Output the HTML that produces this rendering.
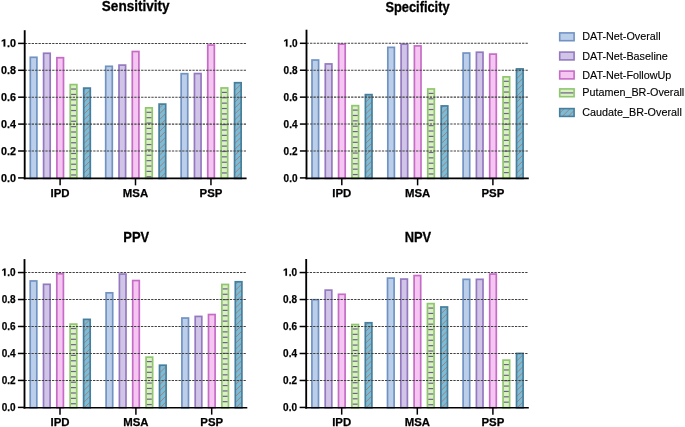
<!DOCTYPE html>
<html><head><meta charset="utf-8"><style>
html,body{margin:0;padding:0;background:#fff;}
svg{display:block;filter:blur(0.35px);}
text{font-family:"Liberation Sans", sans-serif;fill:#000;}
.yl{font-size:11.8px;font-weight:bold;stroke:#000;stroke-width:0.25px;}
.xl{font-size:11.4px;font-weight:bold;stroke:#000;stroke-width:0.25px;}
.tt{font-size:14.9px;font-weight:bold;stroke:#000;stroke-width:0.3px;}
.lg{font-size:10.8px;fill:#000;stroke:#000;stroke-width:0.12px;}
</style></head><body>
<svg width="685" height="427" viewBox="0 0 685 427">
<defs>
<pattern id="pt" patternUnits="userSpaceOnUse" width="4.2" height="4.2" patternTransform="rotate(45)">
<rect width="4.2" height="4.2" fill="#7dbcd6"/><rect x="0" width="0.85" height="4.2" fill="#a8847a"/></pattern>
</defs>
<rect width="685" height="427" fill="#fff"/>
<rect x="30.3" y="57.3" width="6.6" height="121.15" fill="#bccfea" stroke="#7193c4" stroke-width="1.7"/>
<rect x="43.6" y="53.26" width="6.6" height="125.19" fill="#d0c4e7" stroke="#9579c0" stroke-width="1.7"/>
<rect x="56.9" y="57.7" width="6.6" height="120.75" fill="#f4c6f1" stroke="#c66cc6" stroke-width="1.7"/>
<rect x="70.25" y="84.6" width="6.6" height="93.85" fill="#daf2c2" stroke="#8fc66f" stroke-width="1.7"/>
<line x1="71.1" x2="76" y1="89.05" y2="89.05" stroke="#6c6289" stroke-width="1.2"/>
<line x1="71.1" x2="76" y1="94.42" y2="94.42" stroke="#6c6289" stroke-width="1.2"/>
<line x1="71.1" x2="76" y1="99.79" y2="99.79" stroke="#6c6289" stroke-width="1.2"/>
<line x1="71.1" x2="76" y1="105.16" y2="105.16" stroke="#6c6289" stroke-width="1.2"/>
<line x1="71.1" x2="76" y1="110.53" y2="110.53" stroke="#6c6289" stroke-width="1.2"/>
<line x1="71.1" x2="76" y1="115.9" y2="115.9" stroke="#6c6289" stroke-width="1.2"/>
<line x1="71.1" x2="76" y1="121.27" y2="121.27" stroke="#6c6289" stroke-width="1.2"/>
<line x1="71.1" x2="76" y1="126.64" y2="126.64" stroke="#6c6289" stroke-width="1.2"/>
<line x1="71.1" x2="76" y1="132.01" y2="132.01" stroke="#6c6289" stroke-width="1.2"/>
<line x1="71.1" x2="76" y1="137.38" y2="137.38" stroke="#6c6289" stroke-width="1.2"/>
<line x1="71.1" x2="76" y1="142.75" y2="142.75" stroke="#6c6289" stroke-width="1.2"/>
<line x1="71.1" x2="76" y1="148.12" y2="148.12" stroke="#6c6289" stroke-width="1.2"/>
<line x1="71.1" x2="76" y1="153.49" y2="153.49" stroke="#6c6289" stroke-width="1.2"/>
<line x1="71.1" x2="76" y1="158.86" y2="158.86" stroke="#6c6289" stroke-width="1.2"/>
<line x1="71.1" x2="76" y1="164.23" y2="164.23" stroke="#6c6289" stroke-width="1.2"/>
<line x1="71.1" x2="76" y1="169.6" y2="169.6" stroke="#6c6289" stroke-width="1.2"/>
<line x1="71.1" x2="76" y1="174.97" y2="174.97" stroke="#6c6289" stroke-width="1.2"/>
<clipPath id="c1"><rect x="83.7" y="88.1" width="6.6" height="90.35"/></clipPath><rect x="83.7" y="88.1" width="6.6" height="90.35" fill="#7dbcd6"/><path clip-path="url(#c1)" d="M83.7,185.05L90.3,178.45M83.7,179.15L90.3,172.55M83.7,173.25L90.3,166.65M83.7,167.35L90.3,160.75M83.7,161.45L90.3,154.85M83.7,155.55L90.3,148.95M83.7,149.65L90.3,143.05M83.7,143.75L90.3,137.15M83.7,137.85L90.3,131.25M83.7,131.95L90.3,125.35M83.7,126.05L90.3,119.45M83.7,120.15L90.3,113.55M83.7,114.25L90.3,107.65M83.7,108.35L90.3,101.75M83.7,102.45L90.3,95.85M83.7,96.55L90.3,89.95M83.7,90.65L90.3,84.05" stroke="#a87c72" stroke-width="0.95" fill="none"/><rect x="83.7" y="88.1" width="6.6" height="90.35" fill="none" stroke="#467f9d" stroke-width="1.7"/>
<rect x="105.7" y="66.31" width="6.6" height="112.14" fill="#bccfea" stroke="#7193c4" stroke-width="1.7"/>
<rect x="119" y="65.1" width="6.6" height="113.35" fill="#d0c4e7" stroke="#9579c0" stroke-width="1.7"/>
<rect x="132.3" y="51.51" width="6.6" height="126.94" fill="#f4c6f1" stroke="#c66cc6" stroke-width="1.7"/>
<rect x="145.65" y="107.87" width="6.6" height="70.58" fill="#daf2c2" stroke="#8fc66f" stroke-width="1.7"/>
<line x1="146.5" x2="151.4" y1="112.32" y2="112.32" stroke="#6c6289" stroke-width="1.2"/>
<line x1="146.5" x2="151.4" y1="117.69" y2="117.69" stroke="#6c6289" stroke-width="1.2"/>
<line x1="146.5" x2="151.4" y1="123.06" y2="123.06" stroke="#6c6289" stroke-width="1.2"/>
<line x1="146.5" x2="151.4" y1="128.43" y2="128.43" stroke="#6c6289" stroke-width="1.2"/>
<line x1="146.5" x2="151.4" y1="133.8" y2="133.8" stroke="#6c6289" stroke-width="1.2"/>
<line x1="146.5" x2="151.4" y1="139.17" y2="139.17" stroke="#6c6289" stroke-width="1.2"/>
<line x1="146.5" x2="151.4" y1="144.54" y2="144.54" stroke="#6c6289" stroke-width="1.2"/>
<line x1="146.5" x2="151.4" y1="149.91" y2="149.91" stroke="#6c6289" stroke-width="1.2"/>
<line x1="146.5" x2="151.4" y1="155.28" y2="155.28" stroke="#6c6289" stroke-width="1.2"/>
<line x1="146.5" x2="151.4" y1="160.65" y2="160.65" stroke="#6c6289" stroke-width="1.2"/>
<line x1="146.5" x2="151.4" y1="166.02" y2="166.02" stroke="#6c6289" stroke-width="1.2"/>
<line x1="146.5" x2="151.4" y1="171.39" y2="171.39" stroke="#6c6289" stroke-width="1.2"/>
<line x1="146.5" x2="151.4" y1="176.76" y2="176.76" stroke="#6c6289" stroke-width="1.2"/>
<clipPath id="c2"><rect x="159.1" y="104.1" width="6.6" height="74.35"/></clipPath><rect x="159.1" y="104.1" width="6.6" height="74.35" fill="#7dbcd6"/><path clip-path="url(#c2)" d="M159.1,185.05L165.7,178.45M159.1,179.15L165.7,172.55M159.1,173.25L165.7,166.65M159.1,167.35L165.7,160.75M159.1,161.45L165.7,154.85M159.1,155.55L165.7,148.95M159.1,149.65L165.7,143.05M159.1,143.75L165.7,137.15M159.1,137.85L165.7,131.25M159.1,131.95L165.7,125.35M159.1,126.05L165.7,119.45M159.1,120.15L165.7,113.55M159.1,114.25L165.7,107.65M159.1,108.35L165.7,101.75" stroke="#a87c72" stroke-width="0.95" fill="none"/><rect x="159.1" y="104.1" width="6.6" height="74.35" fill="none" stroke="#467f9d" stroke-width="1.7"/>
<rect x="181.15" y="73.71" width="6.6" height="104.74" fill="#bccfea" stroke="#7193c4" stroke-width="1.7"/>
<rect x="194.45" y="73.57" width="6.6" height="104.88" fill="#d0c4e7" stroke="#9579c0" stroke-width="1.7"/>
<rect x="207.75" y="45.06" width="6.6" height="133.39" fill="#f4c6f1" stroke="#c66cc6" stroke-width="1.7"/>
<rect x="221.1" y="87.96" width="6.6" height="90.49" fill="#daf2c2" stroke="#8fc66f" stroke-width="1.7"/>
<line x1="221.95" x2="226.85" y1="92.41" y2="92.41" stroke="#6c6289" stroke-width="1.2"/>
<line x1="221.95" x2="226.85" y1="97.78" y2="97.78" stroke="#6c6289" stroke-width="1.2"/>
<line x1="221.95" x2="226.85" y1="103.15" y2="103.15" stroke="#6c6289" stroke-width="1.2"/>
<line x1="221.95" x2="226.85" y1="108.52" y2="108.52" stroke="#6c6289" stroke-width="1.2"/>
<line x1="221.95" x2="226.85" y1="113.89" y2="113.89" stroke="#6c6289" stroke-width="1.2"/>
<line x1="221.95" x2="226.85" y1="119.26" y2="119.26" stroke="#6c6289" stroke-width="1.2"/>
<line x1="221.95" x2="226.85" y1="124.63" y2="124.63" stroke="#6c6289" stroke-width="1.2"/>
<line x1="221.95" x2="226.85" y1="130" y2="130" stroke="#6c6289" stroke-width="1.2"/>
<line x1="221.95" x2="226.85" y1="135.37" y2="135.37" stroke="#6c6289" stroke-width="1.2"/>
<line x1="221.95" x2="226.85" y1="140.74" y2="140.74" stroke="#6c6289" stroke-width="1.2"/>
<line x1="221.95" x2="226.85" y1="146.11" y2="146.11" stroke="#6c6289" stroke-width="1.2"/>
<line x1="221.95" x2="226.85" y1="151.48" y2="151.48" stroke="#6c6289" stroke-width="1.2"/>
<line x1="221.95" x2="226.85" y1="156.85" y2="156.85" stroke="#6c6289" stroke-width="1.2"/>
<line x1="221.95" x2="226.85" y1="162.22" y2="162.22" stroke="#6c6289" stroke-width="1.2"/>
<line x1="221.95" x2="226.85" y1="167.59" y2="167.59" stroke="#6c6289" stroke-width="1.2"/>
<line x1="221.95" x2="226.85" y1="172.96" y2="172.96" stroke="#6c6289" stroke-width="1.2"/>
<clipPath id="c3"><rect x="234.55" y="82.72" width="6.6" height="95.73"/></clipPath><rect x="234.55" y="82.72" width="6.6" height="95.73" fill="#7dbcd6"/><path clip-path="url(#c3)" d="M234.55,185.05L241.15,178.45M234.55,179.15L241.15,172.55M234.55,173.25L241.15,166.65M234.55,167.35L241.15,160.75M234.55,161.45L241.15,154.85M234.55,155.55L241.15,148.95M234.55,149.65L241.15,143.05M234.55,143.75L241.15,137.15M234.55,137.85L241.15,131.25M234.55,131.95L241.15,125.35M234.55,126.05L241.15,119.45M234.55,120.15L241.15,113.55M234.55,114.25L241.15,107.65M234.55,108.35L241.15,101.75M234.55,102.45L241.15,95.85M234.55,96.55L241.15,89.95M234.55,90.65L241.15,84.05M234.55,84.75L241.15,78.15" stroke="#a87c72" stroke-width="0.95" fill="none"/><rect x="234.55" y="82.72" width="6.6" height="95.73" fill="none" stroke="#467f9d" stroke-width="1.7"/>
<line x1="24.83" x2="246.1" y1="151" y2="151" stroke="#404040" stroke-width="1.05" stroke-dasharray="2.3 1.12"/>
<line x1="24.83" x2="246.1" y1="124.1" y2="124.1" stroke="#404040" stroke-width="1.05" stroke-dasharray="2.3 1.12"/>
<line x1="24.83" x2="246.1" y1="97.2" y2="97.2" stroke="#404040" stroke-width="1.05" stroke-dasharray="2.3 1.12"/>
<line x1="24.83" x2="246.1" y1="70.3" y2="70.3" stroke="#404040" stroke-width="1.05" stroke-dasharray="2.3 1.12"/>
<line x1="24.83" x2="246.1" y1="43.4" y2="43.4" stroke="#404040" stroke-width="1.05" stroke-dasharray="2.3 1.12"/>
<line x1="24.7" x2="24.7" y1="30.2" y2="179.3" stroke="#000" stroke-width="1.85"/>
<line x1="23.78" x2="246.6" y1="178.45" y2="178.45" stroke="#000" stroke-width="1.7"/>
<line x1="18.1" x2="24.7" y1="177.9" y2="177.9" stroke="#000" stroke-width="1.5"/>
<text x="1.1" y="181.5" class="yl" textLength="15" lengthAdjust="spacingAndGlyphs">0.0</text>
<line x1="18.1" x2="24.7" y1="151" y2="151" stroke="#000" stroke-width="1.5"/>
<text x="1.1" y="154.6" class="yl" textLength="15" lengthAdjust="spacingAndGlyphs">0.2</text>
<line x1="18.1" x2="24.7" y1="124.1" y2="124.1" stroke="#000" stroke-width="1.5"/>
<text x="1.1" y="127.7" class="yl" textLength="15" lengthAdjust="spacingAndGlyphs">0.4</text>
<line x1="18.1" x2="24.7" y1="97.2" y2="97.2" stroke="#000" stroke-width="1.5"/>
<text x="1.1" y="100.8" class="yl" textLength="15" lengthAdjust="spacingAndGlyphs">0.6</text>
<line x1="18.1" x2="24.7" y1="70.3" y2="70.3" stroke="#000" stroke-width="1.5"/>
<text x="1.1" y="73.9" class="yl" textLength="15" lengthAdjust="spacingAndGlyphs">0.8</text>
<line x1="18.1" x2="24.7" y1="43.4" y2="43.4" stroke="#000" stroke-width="1.5"/>
<text x="7.1" y="47" class="yl" textLength="9" lengthAdjust="spacingAndGlyphs">.0</text>
<path transform="translate(1.1,46.6) scale(0.005267,-0.005186)" stroke="#000" stroke-width="28" d="M470,0L470,1130L110,920L110,1170L480,1409L795,1409L795,0Z"/>
<line x1="60.1" x2="60.1" y1="178.45" y2="185.35" stroke="#000" stroke-width="1.5"/>
<text x="60.1" y="196.85" text-anchor="middle" class="xl">IPD</text>
<line x1="135.5" x2="135.5" y1="178.45" y2="185.35" stroke="#000" stroke-width="1.5"/>
<text x="135.5" y="196.85" text-anchor="middle" class="xl">MSA</text>
<line x1="210.95" x2="210.95" y1="178.45" y2="185.35" stroke="#000" stroke-width="1.5"/>
<text x="210.95" y="196.85" text-anchor="middle" class="xl">PSP</text>
<text x="135.7" y="11.2" text-anchor="middle" class="tt" textLength="67.8" lengthAdjust="spacingAndGlyphs">Sensitivity</text>
<rect x="312" y="60.03" width="6.6" height="118.42" fill="#bccfea" stroke="#7193c4" stroke-width="1.7"/>
<rect x="325.3" y="63.94" width="6.6" height="114.51" fill="#d0c4e7" stroke="#9579c0" stroke-width="1.7"/>
<rect x="338.6" y="44.15" width="6.6" height="134.3" fill="#f4c6f1" stroke="#c66cc6" stroke-width="1.7"/>
<rect x="351.95" y="105.66" width="6.6" height="72.79" fill="#daf2c2" stroke="#8fc66f" stroke-width="1.7"/>
<line x1="352.8" x2="357.7" y1="110.11" y2="110.11" stroke="#6c6289" stroke-width="1.2"/>
<line x1="352.8" x2="357.7" y1="115.48" y2="115.48" stroke="#6c6289" stroke-width="1.2"/>
<line x1="352.8" x2="357.7" y1="120.85" y2="120.85" stroke="#6c6289" stroke-width="1.2"/>
<line x1="352.8" x2="357.7" y1="126.22" y2="126.22" stroke="#6c6289" stroke-width="1.2"/>
<line x1="352.8" x2="357.7" y1="131.59" y2="131.59" stroke="#6c6289" stroke-width="1.2"/>
<line x1="352.8" x2="357.7" y1="136.96" y2="136.96" stroke="#6c6289" stroke-width="1.2"/>
<line x1="352.8" x2="357.7" y1="142.33" y2="142.33" stroke="#6c6289" stroke-width="1.2"/>
<line x1="352.8" x2="357.7" y1="147.7" y2="147.7" stroke="#6c6289" stroke-width="1.2"/>
<line x1="352.8" x2="357.7" y1="153.07" y2="153.07" stroke="#6c6289" stroke-width="1.2"/>
<line x1="352.8" x2="357.7" y1="158.44" y2="158.44" stroke="#6c6289" stroke-width="1.2"/>
<line x1="352.8" x2="357.7" y1="163.81" y2="163.81" stroke="#6c6289" stroke-width="1.2"/>
<line x1="352.8" x2="357.7" y1="169.18" y2="169.18" stroke="#6c6289" stroke-width="1.2"/>
<line x1="352.8" x2="357.7" y1="174.55" y2="174.55" stroke="#6c6289" stroke-width="1.2"/>
<clipPath id="c4"><rect x="365.4" y="94.62" width="6.6" height="83.83"/></clipPath><rect x="365.4" y="94.62" width="6.6" height="83.83" fill="#7dbcd6"/><path clip-path="url(#c4)" d="M365.4,185.05L372,178.45M365.4,179.15L372,172.55M365.4,173.25L372,166.65M365.4,167.35L372,160.75M365.4,161.45L372,154.85M365.4,155.55L372,148.95M365.4,149.65L372,143.05M365.4,143.75L372,137.15M365.4,137.85L372,131.25M365.4,131.95L372,125.35M365.4,126.05L372,119.45M365.4,120.15L372,113.55M365.4,114.25L372,107.65M365.4,108.35L372,101.75M365.4,102.45L372,95.85M365.4,96.55L372,89.95" stroke="#a87c72" stroke-width="0.95" fill="none"/><rect x="365.4" y="94.62" width="6.6" height="83.83" fill="none" stroke="#467f9d" stroke-width="1.7"/>
<rect x="387.8" y="47.38" width="6.6" height="131.07" fill="#bccfea" stroke="#7193c4" stroke-width="1.7"/>
<rect x="401.1" y="44.15" width="6.6" height="134.3" fill="#d0c4e7" stroke="#9579c0" stroke-width="1.7"/>
<rect x="414.4" y="45.9" width="6.6" height="132.55" fill="#f4c6f1" stroke="#c66cc6" stroke-width="1.7"/>
<rect x="427.75" y="88.97" width="6.6" height="89.48" fill="#daf2c2" stroke="#8fc66f" stroke-width="1.7"/>
<line x1="428.6" x2="433.5" y1="93.42" y2="93.42" stroke="#6c6289" stroke-width="1.2"/>
<line x1="428.6" x2="433.5" y1="98.79" y2="98.79" stroke="#6c6289" stroke-width="1.2"/>
<line x1="428.6" x2="433.5" y1="104.16" y2="104.16" stroke="#6c6289" stroke-width="1.2"/>
<line x1="428.6" x2="433.5" y1="109.53" y2="109.53" stroke="#6c6289" stroke-width="1.2"/>
<line x1="428.6" x2="433.5" y1="114.9" y2="114.9" stroke="#6c6289" stroke-width="1.2"/>
<line x1="428.6" x2="433.5" y1="120.27" y2="120.27" stroke="#6c6289" stroke-width="1.2"/>
<line x1="428.6" x2="433.5" y1="125.64" y2="125.64" stroke="#6c6289" stroke-width="1.2"/>
<line x1="428.6" x2="433.5" y1="131.01" y2="131.01" stroke="#6c6289" stroke-width="1.2"/>
<line x1="428.6" x2="433.5" y1="136.38" y2="136.38" stroke="#6c6289" stroke-width="1.2"/>
<line x1="428.6" x2="433.5" y1="141.75" y2="141.75" stroke="#6c6289" stroke-width="1.2"/>
<line x1="428.6" x2="433.5" y1="147.12" y2="147.12" stroke="#6c6289" stroke-width="1.2"/>
<line x1="428.6" x2="433.5" y1="152.49" y2="152.49" stroke="#6c6289" stroke-width="1.2"/>
<line x1="428.6" x2="433.5" y1="157.86" y2="157.86" stroke="#6c6289" stroke-width="1.2"/>
<line x1="428.6" x2="433.5" y1="163.23" y2="163.23" stroke="#6c6289" stroke-width="1.2"/>
<line x1="428.6" x2="433.5" y1="168.6" y2="168.6" stroke="#6c6289" stroke-width="1.2"/>
<line x1="428.6" x2="433.5" y1="173.97" y2="173.97" stroke="#6c6289" stroke-width="1.2"/>
<clipPath id="c5"><rect x="441.2" y="105.93" width="6.6" height="72.52"/></clipPath><rect x="441.2" y="105.93" width="6.6" height="72.52" fill="#7dbcd6"/><path clip-path="url(#c5)" d="M441.2,185.05L447.8,178.45M441.2,179.15L447.8,172.55M441.2,173.25L447.8,166.65M441.2,167.35L447.8,160.75M441.2,161.45L447.8,154.85M441.2,155.55L447.8,148.95M441.2,149.65L447.8,143.05M441.2,143.75L447.8,137.15M441.2,137.85L447.8,131.25M441.2,131.95L447.8,125.35M441.2,126.05L447.8,119.45M441.2,120.15L447.8,113.55M441.2,114.25L447.8,107.65M441.2,108.35L447.8,101.75" stroke="#a87c72" stroke-width="0.95" fill="none"/><rect x="441.2" y="105.93" width="6.6" height="72.52" fill="none" stroke="#467f9d" stroke-width="1.7"/>
<rect x="463.1" y="53.03" width="6.6" height="125.42" fill="#bccfea" stroke="#7193c4" stroke-width="1.7"/>
<rect x="476.4" y="52.23" width="6.6" height="126.22" fill="#d0c4e7" stroke="#9579c0" stroke-width="1.7"/>
<rect x="489.7" y="54.11" width="6.6" height="124.34" fill="#f4c6f1" stroke="#c66cc6" stroke-width="1.7"/>
<rect x="503.05" y="76.86" width="6.6" height="101.59" fill="#daf2c2" stroke="#8fc66f" stroke-width="1.7"/>
<line x1="503.9" x2="508.8" y1="81.31" y2="81.31" stroke="#6c6289" stroke-width="1.2"/>
<line x1="503.9" x2="508.8" y1="86.68" y2="86.68" stroke="#6c6289" stroke-width="1.2"/>
<line x1="503.9" x2="508.8" y1="92.05" y2="92.05" stroke="#6c6289" stroke-width="1.2"/>
<line x1="503.9" x2="508.8" y1="97.42" y2="97.42" stroke="#6c6289" stroke-width="1.2"/>
<line x1="503.9" x2="508.8" y1="102.79" y2="102.79" stroke="#6c6289" stroke-width="1.2"/>
<line x1="503.9" x2="508.8" y1="108.16" y2="108.16" stroke="#6c6289" stroke-width="1.2"/>
<line x1="503.9" x2="508.8" y1="113.53" y2="113.53" stroke="#6c6289" stroke-width="1.2"/>
<line x1="503.9" x2="508.8" y1="118.9" y2="118.9" stroke="#6c6289" stroke-width="1.2"/>
<line x1="503.9" x2="508.8" y1="124.27" y2="124.27" stroke="#6c6289" stroke-width="1.2"/>
<line x1="503.9" x2="508.8" y1="129.64" y2="129.64" stroke="#6c6289" stroke-width="1.2"/>
<line x1="503.9" x2="508.8" y1="135.01" y2="135.01" stroke="#6c6289" stroke-width="1.2"/>
<line x1="503.9" x2="508.8" y1="140.38" y2="140.38" stroke="#6c6289" stroke-width="1.2"/>
<line x1="503.9" x2="508.8" y1="145.75" y2="145.75" stroke="#6c6289" stroke-width="1.2"/>
<line x1="503.9" x2="508.8" y1="151.12" y2="151.12" stroke="#6c6289" stroke-width="1.2"/>
<line x1="503.9" x2="508.8" y1="156.49" y2="156.49" stroke="#6c6289" stroke-width="1.2"/>
<line x1="503.9" x2="508.8" y1="161.86" y2="161.86" stroke="#6c6289" stroke-width="1.2"/>
<line x1="503.9" x2="508.8" y1="167.23" y2="167.23" stroke="#6c6289" stroke-width="1.2"/>
<line x1="503.9" x2="508.8" y1="172.6" y2="172.6" stroke="#6c6289" stroke-width="1.2"/>
<clipPath id="c6"><rect x="516.5" y="68.92" width="6.6" height="109.53"/></clipPath><rect x="516.5" y="68.92" width="6.6" height="109.53" fill="#7dbcd6"/><path clip-path="url(#c6)" d="M516.5,185.05L523.1,178.45M516.5,179.15L523.1,172.55M516.5,173.25L523.1,166.65M516.5,167.35L523.1,160.75M516.5,161.45L523.1,154.85M516.5,155.55L523.1,148.95M516.5,149.65L523.1,143.05M516.5,143.75L523.1,137.15M516.5,137.85L523.1,131.25M516.5,131.95L523.1,125.35M516.5,126.05L523.1,119.45M516.5,120.15L523.1,113.55M516.5,114.25L523.1,107.65M516.5,108.35L523.1,101.75M516.5,102.45L523.1,95.85M516.5,96.55L523.1,89.95M516.5,90.65L523.1,84.05M516.5,84.75L523.1,78.15M516.5,78.85L523.1,72.25M516.5,72.95L523.1,66.35" stroke="#a87c72" stroke-width="0.95" fill="none"/><rect x="516.5" y="68.92" width="6.6" height="109.53" fill="none" stroke="#467f9d" stroke-width="1.7"/>
<line x1="306.63" x2="528.3" y1="150.98" y2="150.98" stroke="#404040" stroke-width="1.05" stroke-dasharray="2.3 1.12"/>
<line x1="306.63" x2="528.3" y1="124.06" y2="124.06" stroke="#404040" stroke-width="1.05" stroke-dasharray="2.3 1.12"/>
<line x1="306.63" x2="528.3" y1="97.14" y2="97.14" stroke="#404040" stroke-width="1.05" stroke-dasharray="2.3 1.12"/>
<line x1="306.63" x2="528.3" y1="70.22" y2="70.22" stroke="#404040" stroke-width="1.05" stroke-dasharray="2.3 1.12"/>
<line x1="306.63" x2="528.3" y1="43.3" y2="43.3" stroke="#404040" stroke-width="1.05" stroke-dasharray="2.3 1.12"/>
<line x1="306.5" x2="306.5" y1="29.7" y2="179.3" stroke="#000" stroke-width="1.85"/>
<line x1="305.58" x2="528.8" y1="178.45" y2="178.45" stroke="#000" stroke-width="1.7"/>
<line x1="299.9" x2="306.5" y1="177.9" y2="177.9" stroke="#000" stroke-width="1.5"/>
<text x="283.6" y="181.5" class="yl" textLength="13.9" lengthAdjust="spacingAndGlyphs">0.0</text>
<line x1="299.9" x2="306.5" y1="150.98" y2="150.98" stroke="#000" stroke-width="1.5"/>
<text x="283.6" y="154.58" class="yl" textLength="13.9" lengthAdjust="spacingAndGlyphs">0.2</text>
<line x1="299.9" x2="306.5" y1="124.06" y2="124.06" stroke="#000" stroke-width="1.5"/>
<text x="283.6" y="127.66" class="yl" textLength="13.9" lengthAdjust="spacingAndGlyphs">0.4</text>
<line x1="299.9" x2="306.5" y1="97.14" y2="97.14" stroke="#000" stroke-width="1.5"/>
<text x="283.6" y="100.74" class="yl" textLength="13.9" lengthAdjust="spacingAndGlyphs">0.6</text>
<line x1="299.9" x2="306.5" y1="70.22" y2="70.22" stroke="#000" stroke-width="1.5"/>
<text x="283.6" y="73.82" class="yl" textLength="13.9" lengthAdjust="spacingAndGlyphs">0.8</text>
<line x1="299.9" x2="306.5" y1="43.3" y2="43.3" stroke="#000" stroke-width="1.5"/>
<text x="289.16" y="46.9" class="yl" textLength="8.34" lengthAdjust="spacingAndGlyphs">.0</text>
<path transform="translate(283.6,46.5) scale(0.004880,-0.005186)" stroke="#000" stroke-width="28" d="M470,0L470,1130L110,920L110,1170L480,1409L795,1409L795,0Z"/>
<line x1="341.8" x2="341.8" y1="178.45" y2="185.35" stroke="#000" stroke-width="1.5"/>
<text x="341.8" y="196.85" text-anchor="middle" class="xl">IPD</text>
<line x1="417.6" x2="417.6" y1="178.45" y2="185.35" stroke="#000" stroke-width="1.5"/>
<text x="417.6" y="196.85" text-anchor="middle" class="xl">MSA</text>
<line x1="492.9" x2="492.9" y1="178.45" y2="185.35" stroke="#000" stroke-width="1.5"/>
<text x="492.9" y="196.85" text-anchor="middle" class="xl">PSP</text>
<text x="417.5" y="12.0" text-anchor="middle" class="tt" textLength="64.2" lengthAdjust="spacingAndGlyphs">Specificity</text>
<rect x="30.2" y="280.95" width="6.6" height="126.8" fill="#bccfea" stroke="#7193c4" stroke-width="1.7"/>
<rect x="43.5" y="284.32" width="6.6" height="123.43" fill="#d0c4e7" stroke="#9579c0" stroke-width="1.7"/>
<rect x="56.8" y="273.8" width="6.6" height="133.95" fill="#f4c6f1" stroke="#c66cc6" stroke-width="1.7"/>
<rect x="70.15" y="324.1" width="6.6" height="83.65" fill="#daf2c2" stroke="#8fc66f" stroke-width="1.7"/>
<line x1="71" x2="75.9" y1="328.55" y2="328.55" stroke="#6c6289" stroke-width="1.2"/>
<line x1="71" x2="75.9" y1="333.92" y2="333.92" stroke="#6c6289" stroke-width="1.2"/>
<line x1="71" x2="75.9" y1="339.29" y2="339.29" stroke="#6c6289" stroke-width="1.2"/>
<line x1="71" x2="75.9" y1="344.66" y2="344.66" stroke="#6c6289" stroke-width="1.2"/>
<line x1="71" x2="75.9" y1="350.03" y2="350.03" stroke="#6c6289" stroke-width="1.2"/>
<line x1="71" x2="75.9" y1="355.4" y2="355.4" stroke="#6c6289" stroke-width="1.2"/>
<line x1="71" x2="75.9" y1="360.77" y2="360.77" stroke="#6c6289" stroke-width="1.2"/>
<line x1="71" x2="75.9" y1="366.14" y2="366.14" stroke="#6c6289" stroke-width="1.2"/>
<line x1="71" x2="75.9" y1="371.51" y2="371.51" stroke="#6c6289" stroke-width="1.2"/>
<line x1="71" x2="75.9" y1="376.88" y2="376.88" stroke="#6c6289" stroke-width="1.2"/>
<line x1="71" x2="75.9" y1="382.25" y2="382.25" stroke="#6c6289" stroke-width="1.2"/>
<line x1="71" x2="75.9" y1="387.62" y2="387.62" stroke="#6c6289" stroke-width="1.2"/>
<line x1="71" x2="75.9" y1="392.99" y2="392.99" stroke="#6c6289" stroke-width="1.2"/>
<line x1="71" x2="75.9" y1="398.36" y2="398.36" stroke="#6c6289" stroke-width="1.2"/>
<line x1="71" x2="75.9" y1="403.73" y2="403.73" stroke="#6c6289" stroke-width="1.2"/>
<clipPath id="c7"><rect x="83.6" y="319.38" width="6.6" height="88.37"/></clipPath><rect x="83.6" y="319.38" width="6.6" height="88.37" fill="#7dbcd6"/><path clip-path="url(#c7)" d="M83.6,414.35L90.2,407.75M83.6,408.45L90.2,401.85M83.6,402.55L90.2,395.95M83.6,396.65L90.2,390.05M83.6,390.75L90.2,384.15M83.6,384.85L90.2,378.25M83.6,378.95L90.2,372.35M83.6,373.05L90.2,366.45M83.6,367.15L90.2,360.55M83.6,361.25L90.2,354.65M83.6,355.35L90.2,348.75M83.6,349.45L90.2,342.85M83.6,343.55L90.2,336.95M83.6,337.65L90.2,331.05M83.6,331.75L90.2,325.15M83.6,325.85L90.2,319.25M83.6,319.95L90.2,313.35" stroke="#a87c72" stroke-width="0.95" fill="none"/><rect x="83.6" y="319.38" width="6.6" height="88.37" fill="none" stroke="#467f9d" stroke-width="1.7"/>
<rect x="106.1" y="292.82" width="6.6" height="114.93" fill="#bccfea" stroke="#7193c4" stroke-width="1.7"/>
<rect x="119.4" y="274.07" width="6.6" height="133.68" fill="#d0c4e7" stroke="#9579c0" stroke-width="1.7"/>
<rect x="132.7" y="280.55" width="6.6" height="127.2" fill="#f4c6f1" stroke="#c66cc6" stroke-width="1.7"/>
<rect x="146.05" y="357.14" width="6.6" height="50.61" fill="#daf2c2" stroke="#8fc66f" stroke-width="1.7"/>
<line x1="146.9" x2="151.8" y1="361.59" y2="361.59" stroke="#6c6289" stroke-width="1.2"/>
<line x1="146.9" x2="151.8" y1="366.96" y2="366.96" stroke="#6c6289" stroke-width="1.2"/>
<line x1="146.9" x2="151.8" y1="372.33" y2="372.33" stroke="#6c6289" stroke-width="1.2"/>
<line x1="146.9" x2="151.8" y1="377.7" y2="377.7" stroke="#6c6289" stroke-width="1.2"/>
<line x1="146.9" x2="151.8" y1="383.07" y2="383.07" stroke="#6c6289" stroke-width="1.2"/>
<line x1="146.9" x2="151.8" y1="388.44" y2="388.44" stroke="#6c6289" stroke-width="1.2"/>
<line x1="146.9" x2="151.8" y1="393.81" y2="393.81" stroke="#6c6289" stroke-width="1.2"/>
<line x1="146.9" x2="151.8" y1="399.18" y2="399.18" stroke="#6c6289" stroke-width="1.2"/>
<line x1="146.9" x2="151.8" y1="404.55" y2="404.55" stroke="#6c6289" stroke-width="1.2"/>
<clipPath id="c8"><rect x="159.5" y="365.23" width="6.6" height="42.52"/></clipPath><rect x="159.5" y="365.23" width="6.6" height="42.52" fill="#7dbcd6"/><path clip-path="url(#c8)" d="M159.5,414.35L166.1,407.75M159.5,408.45L166.1,401.85M159.5,402.55L166.1,395.95M159.5,396.65L166.1,390.05M159.5,390.75L166.1,384.15M159.5,384.85L166.1,378.25M159.5,378.95L166.1,372.35M159.5,373.05L166.1,366.45M159.5,367.15L166.1,360.55" stroke="#a87c72" stroke-width="0.95" fill="none"/><rect x="159.5" y="365.23" width="6.6" height="42.52" fill="none" stroke="#467f9d" stroke-width="1.7"/>
<rect x="181.9" y="318.04" width="6.6" height="89.71" fill="#bccfea" stroke="#7193c4" stroke-width="1.7"/>
<rect x="195.2" y="316.42" width="6.6" height="91.33" fill="#d0c4e7" stroke="#9579c0" stroke-width="1.7"/>
<rect x="208.5" y="314.53" width="6.6" height="93.22" fill="#f4c6f1" stroke="#c66cc6" stroke-width="1.7"/>
<rect x="221.85" y="284.46" width="6.6" height="123.29" fill="#daf2c2" stroke="#8fc66f" stroke-width="1.7"/>
<line x1="222.7" x2="227.6" y1="288.91" y2="288.91" stroke="#6c6289" stroke-width="1.2"/>
<line x1="222.7" x2="227.6" y1="294.28" y2="294.28" stroke="#6c6289" stroke-width="1.2"/>
<line x1="222.7" x2="227.6" y1="299.65" y2="299.65" stroke="#6c6289" stroke-width="1.2"/>
<line x1="222.7" x2="227.6" y1="305.02" y2="305.02" stroke="#6c6289" stroke-width="1.2"/>
<line x1="222.7" x2="227.6" y1="310.39" y2="310.39" stroke="#6c6289" stroke-width="1.2"/>
<line x1="222.7" x2="227.6" y1="315.76" y2="315.76" stroke="#6c6289" stroke-width="1.2"/>
<line x1="222.7" x2="227.6" y1="321.13" y2="321.13" stroke="#6c6289" stroke-width="1.2"/>
<line x1="222.7" x2="227.6" y1="326.5" y2="326.5" stroke="#6c6289" stroke-width="1.2"/>
<line x1="222.7" x2="227.6" y1="331.87" y2="331.87" stroke="#6c6289" stroke-width="1.2"/>
<line x1="222.7" x2="227.6" y1="337.24" y2="337.24" stroke="#6c6289" stroke-width="1.2"/>
<line x1="222.7" x2="227.6" y1="342.61" y2="342.61" stroke="#6c6289" stroke-width="1.2"/>
<line x1="222.7" x2="227.6" y1="347.98" y2="347.98" stroke="#6c6289" stroke-width="1.2"/>
<line x1="222.7" x2="227.6" y1="353.35" y2="353.35" stroke="#6c6289" stroke-width="1.2"/>
<line x1="222.7" x2="227.6" y1="358.72" y2="358.72" stroke="#6c6289" stroke-width="1.2"/>
<line x1="222.7" x2="227.6" y1="364.09" y2="364.09" stroke="#6c6289" stroke-width="1.2"/>
<line x1="222.7" x2="227.6" y1="369.46" y2="369.46" stroke="#6c6289" stroke-width="1.2"/>
<line x1="222.7" x2="227.6" y1="374.83" y2="374.83" stroke="#6c6289" stroke-width="1.2"/>
<line x1="222.7" x2="227.6" y1="380.2" y2="380.2" stroke="#6c6289" stroke-width="1.2"/>
<line x1="222.7" x2="227.6" y1="385.57" y2="385.57" stroke="#6c6289" stroke-width="1.2"/>
<line x1="222.7" x2="227.6" y1="390.94" y2="390.94" stroke="#6c6289" stroke-width="1.2"/>
<line x1="222.7" x2="227.6" y1="396.31" y2="396.31" stroke="#6c6289" stroke-width="1.2"/>
<line x1="222.7" x2="227.6" y1="401.68" y2="401.68" stroke="#6c6289" stroke-width="1.2"/>
<clipPath id="c9"><rect x="235.3" y="281.76" width="6.6" height="125.99"/></clipPath><rect x="235.3" y="281.76" width="6.6" height="125.99" fill="#7dbcd6"/><path clip-path="url(#c9)" d="M235.3,414.35L241.9,407.75M235.3,408.45L241.9,401.85M235.3,402.55L241.9,395.95M235.3,396.65L241.9,390.05M235.3,390.75L241.9,384.15M235.3,384.85L241.9,378.25M235.3,378.95L241.9,372.35M235.3,373.05L241.9,366.45M235.3,367.15L241.9,360.55M235.3,361.25L241.9,354.65M235.3,355.35L241.9,348.75M235.3,349.45L241.9,342.85M235.3,343.55L241.9,336.95M235.3,337.65L241.9,331.05M235.3,331.75L241.9,325.15M235.3,325.85L241.9,319.25M235.3,319.95L241.9,313.35M235.3,314.05L241.9,307.45M235.3,308.15L241.9,301.55M235.3,302.25L241.9,295.65M235.3,296.35L241.9,289.75M235.3,290.45L241.9,283.85M235.3,284.55L241.9,277.95" stroke="#a87c72" stroke-width="0.95" fill="none"/><rect x="235.3" y="281.76" width="6.6" height="125.99" fill="none" stroke="#467f9d" stroke-width="1.7"/>
<line x1="24.63" x2="246.8" y1="380.43" y2="380.43" stroke="#404040" stroke-width="1.05" stroke-dasharray="2.3 1.12"/>
<line x1="24.63" x2="246.8" y1="353.46" y2="353.46" stroke="#404040" stroke-width="1.05" stroke-dasharray="2.3 1.12"/>
<line x1="24.63" x2="246.8" y1="326.49" y2="326.49" stroke="#404040" stroke-width="1.05" stroke-dasharray="2.3 1.12"/>
<line x1="24.63" x2="246.8" y1="299.52" y2="299.52" stroke="#404040" stroke-width="1.05" stroke-dasharray="2.3 1.12"/>
<line x1="24.63" x2="246.8" y1="272.55" y2="272.55" stroke="#404040" stroke-width="1.05" stroke-dasharray="2.3 1.12"/>
<line x1="24.5" x2="24.5" y1="259.1" y2="408.6" stroke="#000" stroke-width="1.85"/>
<line x1="23.58" x2="247.3" y1="407.75" y2="407.75" stroke="#000" stroke-width="1.7"/>
<line x1="17.9" x2="24.5" y1="407.4" y2="407.4" stroke="#000" stroke-width="1.5"/>
<text x="1.7" y="411" class="yl" textLength="13.9" lengthAdjust="spacingAndGlyphs">0.0</text>
<line x1="17.9" x2="24.5" y1="380.43" y2="380.43" stroke="#000" stroke-width="1.5"/>
<text x="1.7" y="384.03" class="yl" textLength="13.9" lengthAdjust="spacingAndGlyphs">0.2</text>
<line x1="17.9" x2="24.5" y1="353.46" y2="353.46" stroke="#000" stroke-width="1.5"/>
<text x="1.7" y="357.06" class="yl" textLength="13.9" lengthAdjust="spacingAndGlyphs">0.4</text>
<line x1="17.9" x2="24.5" y1="326.49" y2="326.49" stroke="#000" stroke-width="1.5"/>
<text x="1.7" y="330.09" class="yl" textLength="13.9" lengthAdjust="spacingAndGlyphs">0.6</text>
<line x1="17.9" x2="24.5" y1="299.52" y2="299.52" stroke="#000" stroke-width="1.5"/>
<text x="1.7" y="303.12" class="yl" textLength="13.9" lengthAdjust="spacingAndGlyphs">0.8</text>
<line x1="17.9" x2="24.5" y1="272.55" y2="272.55" stroke="#000" stroke-width="1.5"/>
<text x="7.26" y="276.15" class="yl" textLength="8.34" lengthAdjust="spacingAndGlyphs">.0</text>
<path transform="translate(1.7,275.75) scale(0.004880,-0.005186)" stroke="#000" stroke-width="28" d="M470,0L470,1130L110,920L110,1170L480,1409L795,1409L795,0Z"/>
<line x1="60.0" x2="60.0" y1="407.75" y2="414.65" stroke="#000" stroke-width="1.5"/>
<text x="60.0" y="426.15" text-anchor="middle" class="xl">IPD</text>
<line x1="135.9" x2="135.9" y1="407.75" y2="414.65" stroke="#000" stroke-width="1.5"/>
<text x="135.9" y="426.15" text-anchor="middle" class="xl">MSA</text>
<line x1="211.7" x2="211.7" y1="407.75" y2="414.65" stroke="#000" stroke-width="1.5"/>
<text x="211.7" y="426.15" text-anchor="middle" class="xl">PSP</text>
<text x="136.2" y="242.1" text-anchor="middle" class="tt" textLength="25.9" lengthAdjust="spacingAndGlyphs">PPV</text>
<rect x="311.9" y="299.71" width="6.6" height="108.04" fill="#bccfea" stroke="#7193c4" stroke-width="1.7"/>
<rect x="325.2" y="290.13" width="6.6" height="117.62" fill="#d0c4e7" stroke="#9579c0" stroke-width="1.7"/>
<rect x="338.5" y="294.31" width="6.6" height="113.44" fill="#f4c6f1" stroke="#c66cc6" stroke-width="1.7"/>
<rect x="351.85" y="324.53" width="6.6" height="83.22" fill="#daf2c2" stroke="#8fc66f" stroke-width="1.7"/>
<line x1="352.7" x2="357.6" y1="328.98" y2="328.98" stroke="#6c6289" stroke-width="1.2"/>
<line x1="352.7" x2="357.6" y1="334.35" y2="334.35" stroke="#6c6289" stroke-width="1.2"/>
<line x1="352.7" x2="357.6" y1="339.72" y2="339.72" stroke="#6c6289" stroke-width="1.2"/>
<line x1="352.7" x2="357.6" y1="345.09" y2="345.09" stroke="#6c6289" stroke-width="1.2"/>
<line x1="352.7" x2="357.6" y1="350.46" y2="350.46" stroke="#6c6289" stroke-width="1.2"/>
<line x1="352.7" x2="357.6" y1="355.83" y2="355.83" stroke="#6c6289" stroke-width="1.2"/>
<line x1="352.7" x2="357.6" y1="361.2" y2="361.2" stroke="#6c6289" stroke-width="1.2"/>
<line x1="352.7" x2="357.6" y1="366.57" y2="366.57" stroke="#6c6289" stroke-width="1.2"/>
<line x1="352.7" x2="357.6" y1="371.94" y2="371.94" stroke="#6c6289" stroke-width="1.2"/>
<line x1="352.7" x2="357.6" y1="377.31" y2="377.31" stroke="#6c6289" stroke-width="1.2"/>
<line x1="352.7" x2="357.6" y1="382.68" y2="382.68" stroke="#6c6289" stroke-width="1.2"/>
<line x1="352.7" x2="357.6" y1="388.05" y2="388.05" stroke="#6c6289" stroke-width="1.2"/>
<line x1="352.7" x2="357.6" y1="393.42" y2="393.42" stroke="#6c6289" stroke-width="1.2"/>
<line x1="352.7" x2="357.6" y1="398.79" y2="398.79" stroke="#6c6289" stroke-width="1.2"/>
<line x1="352.7" x2="357.6" y1="404.16" y2="404.16" stroke="#6c6289" stroke-width="1.2"/>
<clipPath id="c10"><rect x="365.3" y="322.77" width="6.6" height="84.98"/></clipPath><rect x="365.3" y="322.77" width="6.6" height="84.98" fill="#7dbcd6"/><path clip-path="url(#c10)" d="M365.3,414.35L371.9,407.75M365.3,408.45L371.9,401.85M365.3,402.55L371.9,395.95M365.3,396.65L371.9,390.05M365.3,390.75L371.9,384.15M365.3,384.85L371.9,378.25M365.3,378.95L371.9,372.35M365.3,373.05L371.9,366.45M365.3,367.15L371.9,360.55M365.3,361.25L371.9,354.65M365.3,355.35L371.9,348.75M365.3,349.45L371.9,342.85M365.3,343.55L371.9,336.95M365.3,337.65L371.9,331.05M365.3,331.75L371.9,325.15M365.3,325.85L371.9,319.25" stroke="#a87c72" stroke-width="0.95" fill="none"/><rect x="365.3" y="322.77" width="6.6" height="84.98" fill="none" stroke="#467f9d" stroke-width="1.7"/>
<rect x="387.5" y="278.12" width="6.6" height="129.63" fill="#bccfea" stroke="#7193c4" stroke-width="1.7"/>
<rect x="400.8" y="279.07" width="6.6" height="128.68" fill="#d0c4e7" stroke="#9579c0" stroke-width="1.7"/>
<rect x="414.1" y="275.56" width="6.6" height="132.19" fill="#f4c6f1" stroke="#c66cc6" stroke-width="1.7"/>
<rect x="427.45" y="303.62" width="6.6" height="104.13" fill="#daf2c2" stroke="#8fc66f" stroke-width="1.7"/>
<line x1="428.3" x2="433.2" y1="308.07" y2="308.07" stroke="#6c6289" stroke-width="1.2"/>
<line x1="428.3" x2="433.2" y1="313.44" y2="313.44" stroke="#6c6289" stroke-width="1.2"/>
<line x1="428.3" x2="433.2" y1="318.81" y2="318.81" stroke="#6c6289" stroke-width="1.2"/>
<line x1="428.3" x2="433.2" y1="324.18" y2="324.18" stroke="#6c6289" stroke-width="1.2"/>
<line x1="428.3" x2="433.2" y1="329.55" y2="329.55" stroke="#6c6289" stroke-width="1.2"/>
<line x1="428.3" x2="433.2" y1="334.92" y2="334.92" stroke="#6c6289" stroke-width="1.2"/>
<line x1="428.3" x2="433.2" y1="340.29" y2="340.29" stroke="#6c6289" stroke-width="1.2"/>
<line x1="428.3" x2="433.2" y1="345.66" y2="345.66" stroke="#6c6289" stroke-width="1.2"/>
<line x1="428.3" x2="433.2" y1="351.03" y2="351.03" stroke="#6c6289" stroke-width="1.2"/>
<line x1="428.3" x2="433.2" y1="356.4" y2="356.4" stroke="#6c6289" stroke-width="1.2"/>
<line x1="428.3" x2="433.2" y1="361.77" y2="361.77" stroke="#6c6289" stroke-width="1.2"/>
<line x1="428.3" x2="433.2" y1="367.14" y2="367.14" stroke="#6c6289" stroke-width="1.2"/>
<line x1="428.3" x2="433.2" y1="372.51" y2="372.51" stroke="#6c6289" stroke-width="1.2"/>
<line x1="428.3" x2="433.2" y1="377.88" y2="377.88" stroke="#6c6289" stroke-width="1.2"/>
<line x1="428.3" x2="433.2" y1="383.25" y2="383.25" stroke="#6c6289" stroke-width="1.2"/>
<line x1="428.3" x2="433.2" y1="388.62" y2="388.62" stroke="#6c6289" stroke-width="1.2"/>
<line x1="428.3" x2="433.2" y1="393.99" y2="393.99" stroke="#6c6289" stroke-width="1.2"/>
<line x1="428.3" x2="433.2" y1="399.36" y2="399.36" stroke="#6c6289" stroke-width="1.2"/>
<line x1="428.3" x2="433.2" y1="404.73" y2="404.73" stroke="#6c6289" stroke-width="1.2"/>
<clipPath id="c11"><rect x="440.9" y="306.99" width="6.6" height="100.76"/></clipPath><rect x="440.9" y="306.99" width="6.6" height="100.76" fill="#7dbcd6"/><path clip-path="url(#c11)" d="M440.9,414.35L447.5,407.75M440.9,408.45L447.5,401.85M440.9,402.55L447.5,395.95M440.9,396.65L447.5,390.05M440.9,390.75L447.5,384.15M440.9,384.85L447.5,378.25M440.9,378.95L447.5,372.35M440.9,373.05L447.5,366.45M440.9,367.15L447.5,360.55M440.9,361.25L447.5,354.65M440.9,355.35L447.5,348.75M440.9,349.45L447.5,342.85M440.9,343.55L447.5,336.95M440.9,337.65L447.5,331.05M440.9,331.75L447.5,325.15M440.9,325.85L447.5,319.25M440.9,319.95L447.5,313.35M440.9,314.05L447.5,307.45M440.9,308.15L447.5,301.55" stroke="#a87c72" stroke-width="0.95" fill="none"/><rect x="440.9" y="306.99" width="6.6" height="100.76" fill="none" stroke="#467f9d" stroke-width="1.7"/>
<rect x="463.1" y="279.34" width="6.6" height="128.41" fill="#bccfea" stroke="#7193c4" stroke-width="1.7"/>
<rect x="476.4" y="279.34" width="6.6" height="128.41" fill="#d0c4e7" stroke="#9579c0" stroke-width="1.7"/>
<rect x="489.7" y="274.07" width="6.6" height="133.68" fill="#f4c6f1" stroke="#c66cc6" stroke-width="1.7"/>
<rect x="503.05" y="360.14" width="6.6" height="47.61" fill="#daf2c2" stroke="#8fc66f" stroke-width="1.7"/>
<line x1="503.9" x2="508.8" y1="364.59" y2="364.59" stroke="#6c6289" stroke-width="1.2"/>
<line x1="503.9" x2="508.8" y1="369.96" y2="369.96" stroke="#6c6289" stroke-width="1.2"/>
<line x1="503.9" x2="508.8" y1="375.33" y2="375.33" stroke="#6c6289" stroke-width="1.2"/>
<line x1="503.9" x2="508.8" y1="380.7" y2="380.7" stroke="#6c6289" stroke-width="1.2"/>
<line x1="503.9" x2="508.8" y1="386.07" y2="386.07" stroke="#6c6289" stroke-width="1.2"/>
<line x1="503.9" x2="508.8" y1="391.44" y2="391.44" stroke="#6c6289" stroke-width="1.2"/>
<line x1="503.9" x2="508.8" y1="396.81" y2="396.81" stroke="#6c6289" stroke-width="1.2"/>
<line x1="503.9" x2="508.8" y1="402.18" y2="402.18" stroke="#6c6289" stroke-width="1.2"/>
<clipPath id="c12"><rect x="516.5" y="353.4" width="6.6" height="54.35"/></clipPath><rect x="516.5" y="353.4" width="6.6" height="54.35" fill="#7dbcd6"/><path clip-path="url(#c12)" d="M516.5,414.35L523.1,407.75M516.5,408.45L523.1,401.85M516.5,402.55L523.1,395.95M516.5,396.65L523.1,390.05M516.5,390.75L523.1,384.15M516.5,384.85L523.1,378.25M516.5,378.95L523.1,372.35M516.5,373.05L523.1,366.45M516.5,367.15L523.1,360.55M516.5,361.25L523.1,354.65M516.5,355.35L523.1,348.75" stroke="#a87c72" stroke-width="0.95" fill="none"/><rect x="516.5" y="353.4" width="6.6" height="54.35" fill="none" stroke="#467f9d" stroke-width="1.7"/>
<line x1="306.33" x2="528.3" y1="380.47" y2="380.47" stroke="#404040" stroke-width="1.05" stroke-dasharray="2.3 1.12"/>
<line x1="306.33" x2="528.3" y1="353.49" y2="353.49" stroke="#404040" stroke-width="1.05" stroke-dasharray="2.3 1.12"/>
<line x1="306.33" x2="528.3" y1="326.51" y2="326.51" stroke="#404040" stroke-width="1.05" stroke-dasharray="2.3 1.12"/>
<line x1="306.33" x2="528.3" y1="299.53" y2="299.53" stroke="#404040" stroke-width="1.05" stroke-dasharray="2.3 1.12"/>
<line x1="306.33" x2="528.3" y1="272.55" y2="272.55" stroke="#404040" stroke-width="1.05" stroke-dasharray="2.3 1.12"/>
<line x1="306.2" x2="306.2" y1="259.0" y2="408.6" stroke="#000" stroke-width="1.85"/>
<line x1="305.28" x2="528.8" y1="407.75" y2="407.75" stroke="#000" stroke-width="1.7"/>
<line x1="299.6" x2="306.2" y1="407.45" y2="407.45" stroke="#000" stroke-width="1.5"/>
<text x="283.1" y="411.05" class="yl" textLength="13.9" lengthAdjust="spacingAndGlyphs">0.0</text>
<line x1="299.6" x2="306.2" y1="380.47" y2="380.47" stroke="#000" stroke-width="1.5"/>
<text x="283.1" y="384.07" class="yl" textLength="13.9" lengthAdjust="spacingAndGlyphs">0.2</text>
<line x1="299.6" x2="306.2" y1="353.49" y2="353.49" stroke="#000" stroke-width="1.5"/>
<text x="283.1" y="357.09" class="yl" textLength="13.9" lengthAdjust="spacingAndGlyphs">0.4</text>
<line x1="299.6" x2="306.2" y1="326.51" y2="326.51" stroke="#000" stroke-width="1.5"/>
<text x="283.1" y="330.11" class="yl" textLength="13.9" lengthAdjust="spacingAndGlyphs">0.6</text>
<line x1="299.6" x2="306.2" y1="299.53" y2="299.53" stroke="#000" stroke-width="1.5"/>
<text x="283.1" y="303.13" class="yl" textLength="13.9" lengthAdjust="spacingAndGlyphs">0.8</text>
<line x1="299.6" x2="306.2" y1="272.55" y2="272.55" stroke="#000" stroke-width="1.5"/>
<text x="288.66" y="276.15" class="yl" textLength="8.34" lengthAdjust="spacingAndGlyphs">.0</text>
<path transform="translate(283.1,275.75) scale(0.004880,-0.005186)" stroke="#000" stroke-width="28" d="M470,0L470,1130L110,920L110,1170L480,1409L795,1409L795,0Z"/>
<line x1="341.7" x2="341.7" y1="407.75" y2="414.65" stroke="#000" stroke-width="1.5"/>
<text x="341.7" y="426.15" text-anchor="middle" class="xl">IPD</text>
<line x1="417.3" x2="417.3" y1="407.75" y2="414.65" stroke="#000" stroke-width="1.5"/>
<text x="417.3" y="426.15" text-anchor="middle" class="xl">MSA</text>
<line x1="492.9" x2="492.9" y1="407.75" y2="414.65" stroke="#000" stroke-width="1.5"/>
<text x="492.9" y="426.15" text-anchor="middle" class="xl">PSP</text>
<text x="417.9" y="242.1" text-anchor="middle" class="tt" textLength="26.5" lengthAdjust="spacingAndGlyphs">NPV</text>
<rect x="559.7" y="32.9" width="14.4" height="7.8" fill="#bccfea" stroke="#7193c4" stroke-width="1.6"/>
<text x="582.2" y="40.3" class="lg">DAT-Net-Overall</text>
<rect x="559.7" y="52.1" width="14.4" height="7.8" fill="#d0c4e7" stroke="#9579c0" stroke-width="1.6"/>
<text x="582.2" y="59.5" class="lg">DAT-Net-Baseline</text>
<rect x="559.7" y="71.1" width="14.4" height="7.8" fill="#f4c6f1" stroke="#c66cc6" stroke-width="1.6"/>
<text x="582.2" y="78.5" class="lg">DAT-Net-FollowUp</text>
<rect x="559.7" y="88.9" width="14.4" height="7.8" fill="#daf2c2" stroke="#8fc66f" stroke-width="1.6"/>
<line x1="560.5" x2="573.3" y1="92.9" y2="92.9" stroke="#6c6289" stroke-width="1.2"/>
<text x="582.2" y="96.3" class="lg">Putamen_BR-Overall</text>
<clipPath id="c13"><rect x="559.7" y="108.6" width="14.4" height="7.8"/></clipPath><rect x="559.7" y="108.6" width="14.4" height="7.8" fill="#7dbcd6"/><path clip-path="url(#c13)" d="M559.7,130.8L574.1,116.4M559.7,124.9L574.1,110.5M559.7,119L574.1,104.6M559.7,113.1L574.1,98.7" stroke="#a87c72" stroke-width="0.95" fill="none"/><rect x="559.7" y="108.6" width="14.4" height="7.8" fill="none" stroke="#467f9d" stroke-width="1.6"/>
<text x="582.2" y="116" class="lg">Caudate_BR-Overall</text>
</svg>
</body></html>
